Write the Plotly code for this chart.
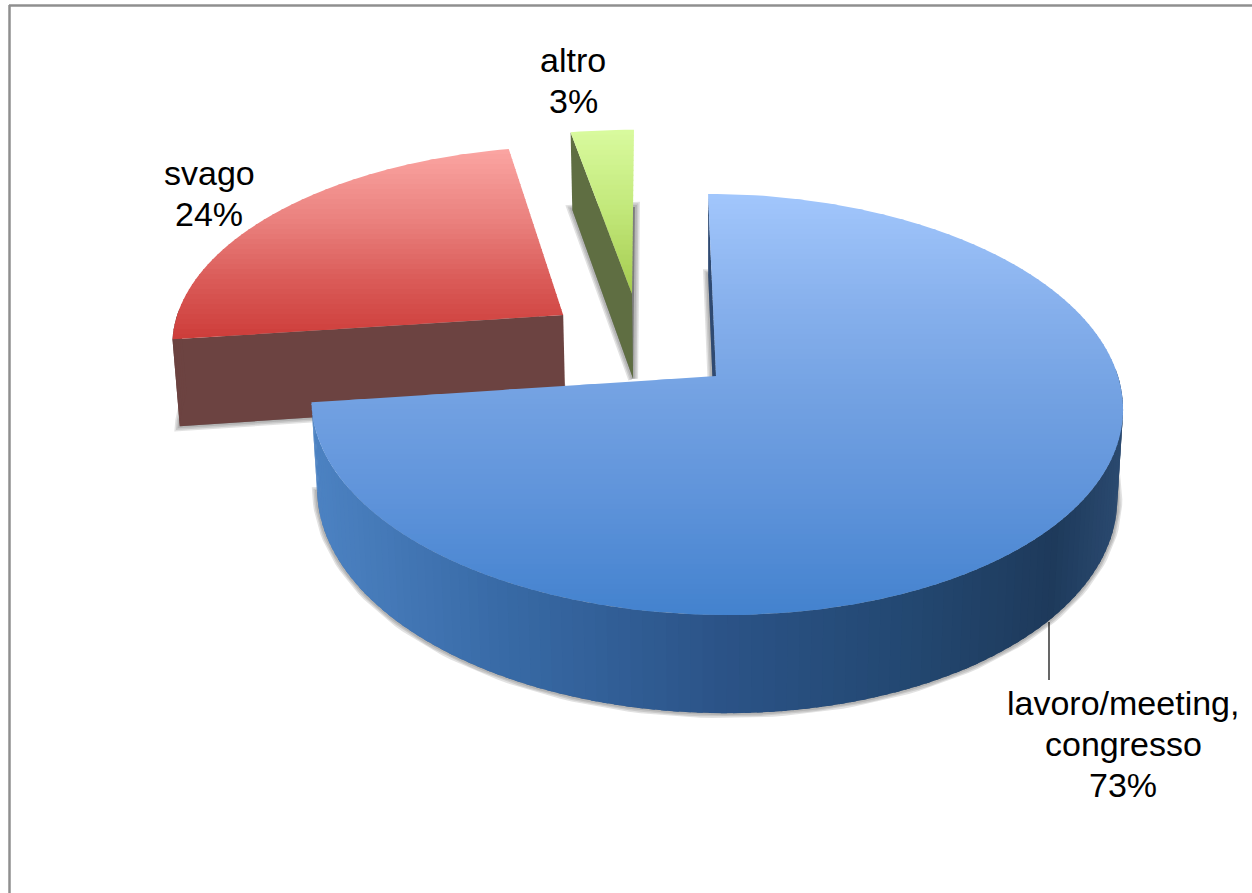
import math
import plotly.graph_objects as go

# ---- data ----
categories = ["lavoro/meeting,<br>congresso", "svago", "altro"]
values = [73, 24, 3]

# ---- styles ----
top_stops = [
    [(194, "#a2c6fc"), (300, "#88b1ed"), (400, "#72a1e2"), (500, "#5e93da"), (615, "#4382ce")],
    [(149, "#fba5a2"), (220, "#ea817e"), (280, "#da5b58"), (338, "#cd3d3a")],
    [(130, "#d9fa9e"), (210, "#c2e87a"), (295, "#a4ca4e")],
]
radial_wall_colors = ["#2f4a72", "#6c4341", "#5f6e42"]
rim_stops = [(315, "#4c82c2"), (500, "#386aa6"), (720, "#2b5387"), (900, "#234872"), (1050, "#1e3a5b"), (1122, "#2b4a70")]
explode = [(0.0, 0.0), (-0.389, -0.307), (-0.2114, -0.42)]
draw_order = [1, 2, 0]
text_pos = {0: (1123, 703), 1: (209, 173), 2: (573, 60)}
FONT = "Liberation Sans"

# ---- projection of the tilted disc onto the page ----
CX, CY, R, S, L, D, K, M = 716, 376, 402, 206.7, 9, 89.7, 0.135, 0.014


def project(u, v, z=0.0):
    w = 1 - K * v + M * z
    return CX + (R * u + L * v) / w, CY + (S * v + D * z) / w


def rim(deg, off, z=0.0):
    a = math.radians(deg)
    return project(math.sin(a) + off[0], -math.cos(a) + off[1], z)


def sector(a0, a1, off, z=0.0):
    n = max(2, int((a1 - a0) / 1.5))
    pts = [project(off[0], off[1], z)]
    pts += [rim(a0 + (a1 - a0) * i / n, off, z) for i in range(n + 1)]
    return pts


def clip(poly, y, keep_below):
    out = []
    for i, p in enumerate(poly):
        q = poly[(i + 1) % len(poly)]
        pin = (p[1] >= y) if keep_below else (p[1] <= y)
        qin = (q[1] >= y) if keep_below else (q[1] <= y)
        if pin:
            out.append(p)
        if pin != qin:
            t = (y - p[1]) / (q[1] - p[1])
            out.append((p[0] + t * (q[0] - p[0]), y))
    return out


def hex_rgb(c):
    return [int(c[i:i + 2], 16) for i in (1, 3, 5)]


def ramp(stops, t):
    if t <= stops[0][0]:
        return stops[0][1]
    for (t0, c0), (t1, c1) in zip(stops, stops[1:]):
        if t <= t1:
            f = (t - t0) / (t1 - t0)
            a, b = hex_rgb(c0), hex_rgb(c1)
            return "rgb(%d,%d,%d)" % tuple(round(x + f * (y - x)) for x, y in zip(a, b))
    return stops[-1][1]


fig = go.Figure()


def add_poly(pts, fill, line=None, width=0):
    fig.add_trace(go.Scatter(
        x=[p[0] for p in pts] + [pts[0][0]], y=[p[1] for p in pts] + [pts[0][1]],
        mode="lines", fill="toself", fillcolor=fill,
        line=dict(color=line or fill, width=width),
        hoverinfo="skip", showlegend=False))


# slice spans from the values, clockwise from 12 o'clock
total = sum(values)
spans, acc = [], 0.0
for val in values:
    spans.append((acc, acc + 360 * val / total))
    acc += 360 * val / total

# soft shadow of each bottom face
for i in draw_order:
    base = sector(spans[i][0], spans[i][1], explode[i], 1.0)
    for width in (10, 7, 4):
        add_poly(base, "rgba(0,0,0,0.12)", "rgba(60,60,60,0.15)", width)

for i in draw_order:
    a0, a1 = spans[i]
    off = explode[i]
    # radial wall
    add_poly([project(off[0], off[1], 0), rim(a0, off, 0), rim(a0, off, 1), project(off[0], off[1], 1)],
             radial_wall_colors[i])
    # outer wall, only where it faces the viewer
    w0, w1 = max(a0, 88), min(a1, 272)
    if w1 > w0:
        n = int((w1 - w0) / 1.5)
        for j in range(n):
            b0 = w0 + (w1 - w0) * j / n
            b1 = w0 + (w1 - w0) * min(j + 1.5, n) / n
            q = [rim(b0, off, 0), rim(b1, off, 0), rim(b1, off, 1), rim(b0, off, 1)]
            xm = sum(p[0] for p in q) / 4
            col = ramp(rim_stops, xm) if i == 0 else radial_wall_colors[i]
            add_poly(q, col)
    # top face, banded for its vertical gradient
    poly = sector(a0, a1, off, 0)
    ys = [p[1] for p in poly]
    y, step = min(ys), 5
    while y < max(ys):
        band = clip(clip(poly, y, True), y + step + 1, False)
        if len(band) >= 3:
            add_poly(band, ramp(top_stops[i], y + step / 2))
        y += step

# labels
for i, (cat, val) in enumerate(zip(categories, values)):
    lines = cat.split("<br>") + [f"{val}%"]
    x0, y0 = text_pos[i]
    for n, line in enumerate(lines):
        fig.add_annotation(x=x0, y=y0 + 41 * n, text=line, showarrow=False,
                           xanchor="center", yanchor="middle",
                           font=dict(family=FONT, size=34, color="#000000"))

# leader line and frame
fig.add_shape(type="line", x0=1049, x1=1049, y0=622, y1=680, line=dict(color="#000000", width=1.2))
fig.add_shape(type="line", x0=9, x1=1252, y0=5.5, y1=5.5, line=dict(color="#8f8f8f", width=2.5))
fig.add_shape(type="line", x0=9.5, x1=9.5, y0=5, y1=893, line=dict(color="#8f8f8f", width=2.5))

fig.update_layout(
    width=1252, height=893, margin=dict(l=0, r=0, t=0, b=0),
    paper_bgcolor="#ffffff", plot_bgcolor="#ffffff", showlegend=False,
    xaxis=dict(range=[0, 1252], visible=False, fixedrange=True),
    yaxis=dict(range=[893, 0], visible=False, fixedrange=True),
)
fig.write_html("out.html", config={"displayModeBar": False},
               post_script="document.body.style.margin='0';document.body.style.overflow='hidden';")
